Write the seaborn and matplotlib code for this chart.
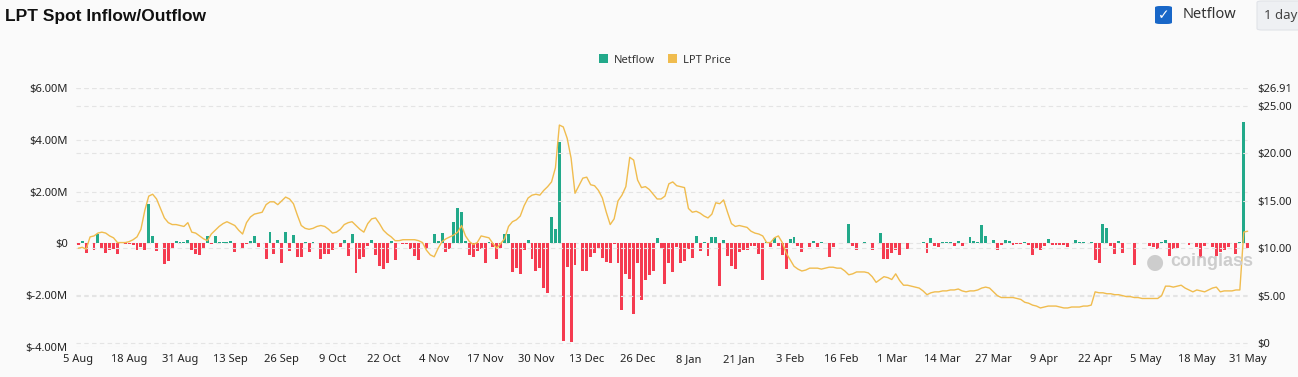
import numpy as np
import pandas as pd
import matplotlib.pyplot as plt
import seaborn as sns
from matplotlib.patches import Patch, FancyBboxPatch

sns.set_theme(style="white")
plt.rcParams['font.family'] = ['Noto Sans', 'DejaVu Sans']

# datos (flujo neto en millones de USD, precio en USD)
start_date = "2024-08-05"

netflow_m = [
    -0.08, 0.09, -0.36, 0.02, -0.27, 0.37, -0.22, -0.36, -0.27, -0.22,
    -0.40, 0.02, -0.03, -0.03, -0.05, -0.24, -0.14, -0.27, 1.54, 0.27,
    -0.30, 0.03, -0.79, -0.68, -0.22, 0.09, 0.05, 0.04, 0.13, -0.27,
    -0.40, -0.46, -0.22, 0.27, -0.02, 0.30, 0.05, 0.05, 0.05, 0.08,
    -0.34, 0.02, -0.22, -0.02, 0.08, 0.27, -0.15, 0.01, -0.59, 0.43,
    -0.41, 0.14, -0.74, 0.45, -0.30, 0.31, -0.53, -0.53, 0.06, -0.34,
    0.05, 0.01, -0.61, -0.40, -0.40, -0.27, 0.01, -0.12, 0.15, -0.50,
    0.37, -1.14, -0.59, -0.53, -0.10, 0.12, -0.46, -0.88, -1.00, -0.75,
    0.09, -0.66, 0.01, -0.03, -0.03, -0.21, -0.49, -0.66, 0.02, -0.21,
    0.02, 0.35, 0.10, 0.41, -0.34, -0.21, 0.83, 1.37, 1.21, 0.09,
    -0.43, -0.53, -0.30, -0.23, -0.75, 0.06, -0.14, -0.59, -0.17, 0.35,
    0.37, -1.12, -0.96, -1.20, -0.25, 0.12, -0.59, -1.05, -0.94, -1.72,
    -1.91, 1.02, 0.54, 3.91, -3.76, -0.92, -3.81, -0.85, 0.02, -1.05,
    -1.05, -0.53, -0.37, -0.18, -0.57, -0.72, -0.76, -0.03, -0.75, -2.56,
    -1.18, -1.37, -2.73, -0.76, -2.18, -1.43, -1.21, -1.07, 0.21, -0.17,
    -1.57, -0.76, -1.12, -0.14, -0.76, -0.68, -0.22, -0.58, 0.27, -0.30,
    0.05, -0.48, 0.25, 0.25, -1.65, 0.12, -0.47, -0.88, -0.99, -0.35,
    -0.27, -0.27, -0.10, -0.10, -0.40, -1.43, 0.05, -0.12, 0.21, -0.09,
    -0.44, -0.98, 0.18, 0.25, -0.09, -0.34, 0.01, -0.14, 0.09, -0.14,
    0.05, 0.01, -0.53, -0.12, 0.01, 0.01, 0.01, 0.74, -0.10, -0.25,
    0.03, 0.05, 0.01, -0.25, 0.01, 0.40, -0.59, -0.61, -0.37, -0.27,
    -0.44, 0.02, -0.23, 0.02, 0.01, 0.01, 0.05, -0.37, 0.19, -0.10,
    -0.14, 0.04, 0.05, 0.05, -0.10, 0.08, -0.10, 0.03, 0.25, 0.08,
    0.05, 0.70, 0.27, 0.01, 0.13, -0.27, -0.08, 0.15, 0.08, -0.05,
    -0.04, -0.02, 0.06, -0.08, -0.43, -0.18, -0.27, -0.10, 0.17, -0.06,
    -0.07, -0.08, -0.08, -0.14, 0.01, 0.12, 0.05, 0.06, 0.03, 0.05,
    -0.66, -0.75, 0.74, 0.61, -0.10, -0.40, 0.09, -0.37, 0.01, 0.01,
    -0.85, 0.03, 0.03, 0.01, -0.10, -0.12, -0.23, 0.05, 0.15, -0.50,
    -0.21, -0.18, 0.03, 0.02, -0.08, 0.01, -0.14, -0.55, -0.10, 0.02,
    -0.14, -0.50, -0.34, -0.27, -0.14, 0.03, -0.40, 0.05, 4.69, -0.17,
]

price = [
    10.0, 10.1, 9.9, 11.2, 11.3, 11.6, 11.7, 11.6, 11.3, 11.1,
    10.6, 10.6, 10.6, 10.7, 10.9, 11.2, 12.0, 14.0, 15.5, 15.7,
    15.2, 14.2, 13.2, 12.7, 12.5, 12.5, 12.4, 12.3, 12.7, 11.7,
    11.6, 11.3, 11.0, 10.8, 11.5, 11.9, 12.3, 12.6, 12.8, 12.6,
    12.4, 11.9, 11.5, 12.7, 13.3, 13.6, 13.7, 13.8, 14.6, 14.9,
    14.9, 14.6, 15.0, 15.4, 15.2, 14.7, 13.5, 12.4, 12.1, 12.0,
    12.1, 12.3, 12.4, 12.3, 12.0, 11.6, 11.7, 12.0, 12.5, 12.7,
    12.8, 12.4, 12.0, 11.7, 12.6, 13.1, 13.2, 12.6, 11.9, 11.5,
    11.2, 10.8, 10.8, 10.9, 10.9, 10.9, 10.9, 10.8, 10.6, 9.8,
    9.3, 9.1, 10.0, 10.7, 11.0, 11.2, 11.4, 11.7, 12.4, 11.3,
    10.7, 10.4, 10.6, 11.3, 11.2, 11.1, 10.5, 10.0, 10.5, 11.0,
    12.3, 12.8, 13.0, 13.4, 14.5, 15.3, 15.6, 15.7, 15.6, 16.1,
    16.5, 17.0, 18.5, 23.0, 22.8, 21.6, 19.5, 15.8, 16.6, 17.4,
    17.5, 16.7, 16.6, 16.1, 15.3, 13.8, 12.5, 13.1, 15.0, 15.6,
    16.5, 19.6, 19.3, 17.2, 16.4, 16.5, 16.2, 15.7, 15.2, 15.2,
    15.5, 16.8, 17.0, 16.6, 16.5, 16.4, 14.2, 13.8, 13.9, 13.7,
    13.4, 13.2, 13.6, 14.8, 14.7, 15.1, 13.8, 12.6, 12.3, 12.4,
    12.3, 12.2, 11.8, 11.6, 11.5, 11.3, 10.6, 10.6, 11.1, 11.3,
    10.6, 9.5, 8.8, 8.1, 7.8, 7.6, 7.7, 7.9, 7.9, 7.9,
    7.8, 7.9, 8.0, 8.0, 7.9, 7.9, 7.6, 7.2, 7.3, 7.5,
    7.5, 7.5, 7.4, 7.0, 6.4, 6.7, 7.0, 6.9, 6.7, 7.3,
    6.6, 6.1, 6.1, 6.0, 5.9, 5.8, 5.5, 5.1, 5.3, 5.4,
    5.4, 5.5, 5.5, 5.6, 5.6, 5.7, 5.5, 5.4, 5.5, 5.5,
    5.6, 5.8, 5.9, 5.8, 5.4, 5.0, 4.8, 4.8, 4.8, 4.8,
    4.7, 4.6, 4.3, 4.2, 4.0, 3.9, 3.7, 3.8, 3.9, 3.9,
    3.9, 3.8, 3.7, 3.7, 3.8, 3.8, 3.8, 3.9, 3.9, 4.0,
    5.4, 5.3, 5.3, 5.2, 5.2, 5.1, 5.1, 5.0, 4.9, 4.9,
    4.8, 4.8, 4.7, 4.7, 4.7, 4.7, 4.7, 5.0, 6.0, 6.0,
    5.9, 6.0, 6.1, 5.8, 5.6, 5.4, 5.6, 5.5, 5.4, 5.6,
    5.8, 5.9, 5.4, 5.5, 5.5, 5.5, 5.6, 5.6, 11.7, 11.8,
]

left_ticks = [-4e6, -2e6, 0, 2e6, 4e6, 6e6]
right_ticks = [0, 5, 10, 15, 20, 25, 26.91]
label_step = 13

green = '#22A98A'
red = '#F53B50'
gold = '#F0BC4E'
bg = '#FAFAFA'

dates = pd.date_range(start_date, periods=len(netflow_m), freq="D")
df = pd.DataFrame({
    "day": np.arange(len(dates)),
    "netflow": np.array(netflow_m) * 1e6,
    "price": price,
})
df["dir"] = np.where(df["netflow"] >= 0, "in", "out")

fig = plt.figure(figsize=(12.98, 3.77), dpi=100, facecolor=bg)
ax = fig.add_axes([76 / 1298, 1 - 347 / 377, (1250 - 76) / 1298, (347 - 88) / 377])
ax.set_facecolor(bg)

sns.barplot(data=df, x="day", y="netflow", hue="dir", palette={"in": green, "out": red},
            dodge=False, width=0.75, legend=False, ax=ax, linewidth=0, saturation=1)

ax.set_ylim(-4e6, 6e6)
ax.set_yticks(left_ticks)
ax.set_yticklabels(["$0" if v == 0 else f"${v / 1e6:.2f}M" for v in left_ticks])
ax.set_xlim(-0.6, len(dates) - 0.4)
xt = list(range(0, len(dates), label_step))
ax.set_xticks(xt)
ax.set_xticklabels([f"{dates[i].day} {dates[i].strftime('%b')}" for i in xt])
ax.set_xlabel("")
ax.set_ylabel("")
ax.tick_params(axis='both', length=0, labelsize=8, colors='#222222', pad=6)
ax.tick_params(axis='x', pad=5)
ax.grid(axis='y', color='#E4E4E4', linestyle=(0, (4, 3)), linewidth=0.8)
ax.set_axisbelow(True)
for s in ax.spines.values():
    s.set_visible(False)

ax2 = ax.twinx()
sns.lineplot(data=df, x="day", y="price", color=gold, linewidth=1.0, ax=ax2)
ax2.set_ylim(-0.42, 26.91)
ax2.set_yticks(right_ticks)
ax2.set_yticklabels(["$0" if v == 0 else f"${v:.2f}" for v in right_ticks])
ax2.set_ylabel("")
ax2.tick_params(axis='y', length=0, labelsize=8, colors='#222222', pad=5)
ax2.grid(axis='y', color='#E4E4E4', linestyle=(0, (4, 3)), linewidth=0.8)
for s in ax2.spines.values():
    s.set_visible(False)

# marca de agua
fig.text(1170 / 1298, 1 - 262 / 377, "coinglass", fontsize=13, family='Liberation Sans',
         fontweight='bold', color='#CDCDCD', ha='left', va='center')
fig.text(1155 / 1298, 1 - 262 / 377, "\u25CF", fontsize=15, color='#CDCDCD', ha='center', va='center',
         family='DejaVu Sans')

# titulo y controles
fig.text(5 / 1298, 1 - 16 / 377, "LPT Spot Inflow/Outflow", fontsize=12.5, fontweight='bold',
         family='Liberation Sans', color='#111111', va='center', ha='left')
box = FancyBboxPatch((1155 / 1298, 1 - 24 / 377), 17 / 1298, 18 / 377,
                     boxstyle="round,pad=0,rounding_size=0.004", transform=fig.transFigure,
                     facecolor='#1867C8', edgecolor='none')
fig.patches.append(box)
fig.text(1163.5 / 1298, 1 - 15 / 377, "\u2713", fontsize=10, color='white', ha='center', va='center',
         fontweight='bold', family='DejaVu Sans')
fig.text(1183 / 1298, 1 - 15 / 377, "Netflow", fontsize=10.5, color='#333333', va='center', ha='left')
day_box = FancyBboxPatch((1257 / 1298, 1 - 30 / 377), 60 / 1298, 29 / 377,
                         boxstyle="round,pad=0,rounding_size=0.004", transform=fig.transFigure,
                         facecolor='#EEF0F3', edgecolor='#E0E3E8', linewidth=0.8)
fig.patches.append(day_box)
fig.text(1264 / 1298, 1 - 15 / 377, "1 day", fontsize=9.5, color='#444444', va='center', ha='left')

# leyenda
handles = [Patch(facecolor=green, edgecolor='none', label="Netflow"),
           Patch(facecolor=gold, edgecolor='none', label="LPT Price")]
fig.legend(handles=handles, loc='center', bbox_to_anchor=(665 / 1298, 1 - 60 / 377), ncol=2,
           frameon=False, fontsize=8, handlelength=0.8, handleheight=0.8,
           handletextpad=0.5, columnspacing=1.2, labelcolor='#333333')

fig.savefig("out.png", dpi=100, facecolor=bg)
